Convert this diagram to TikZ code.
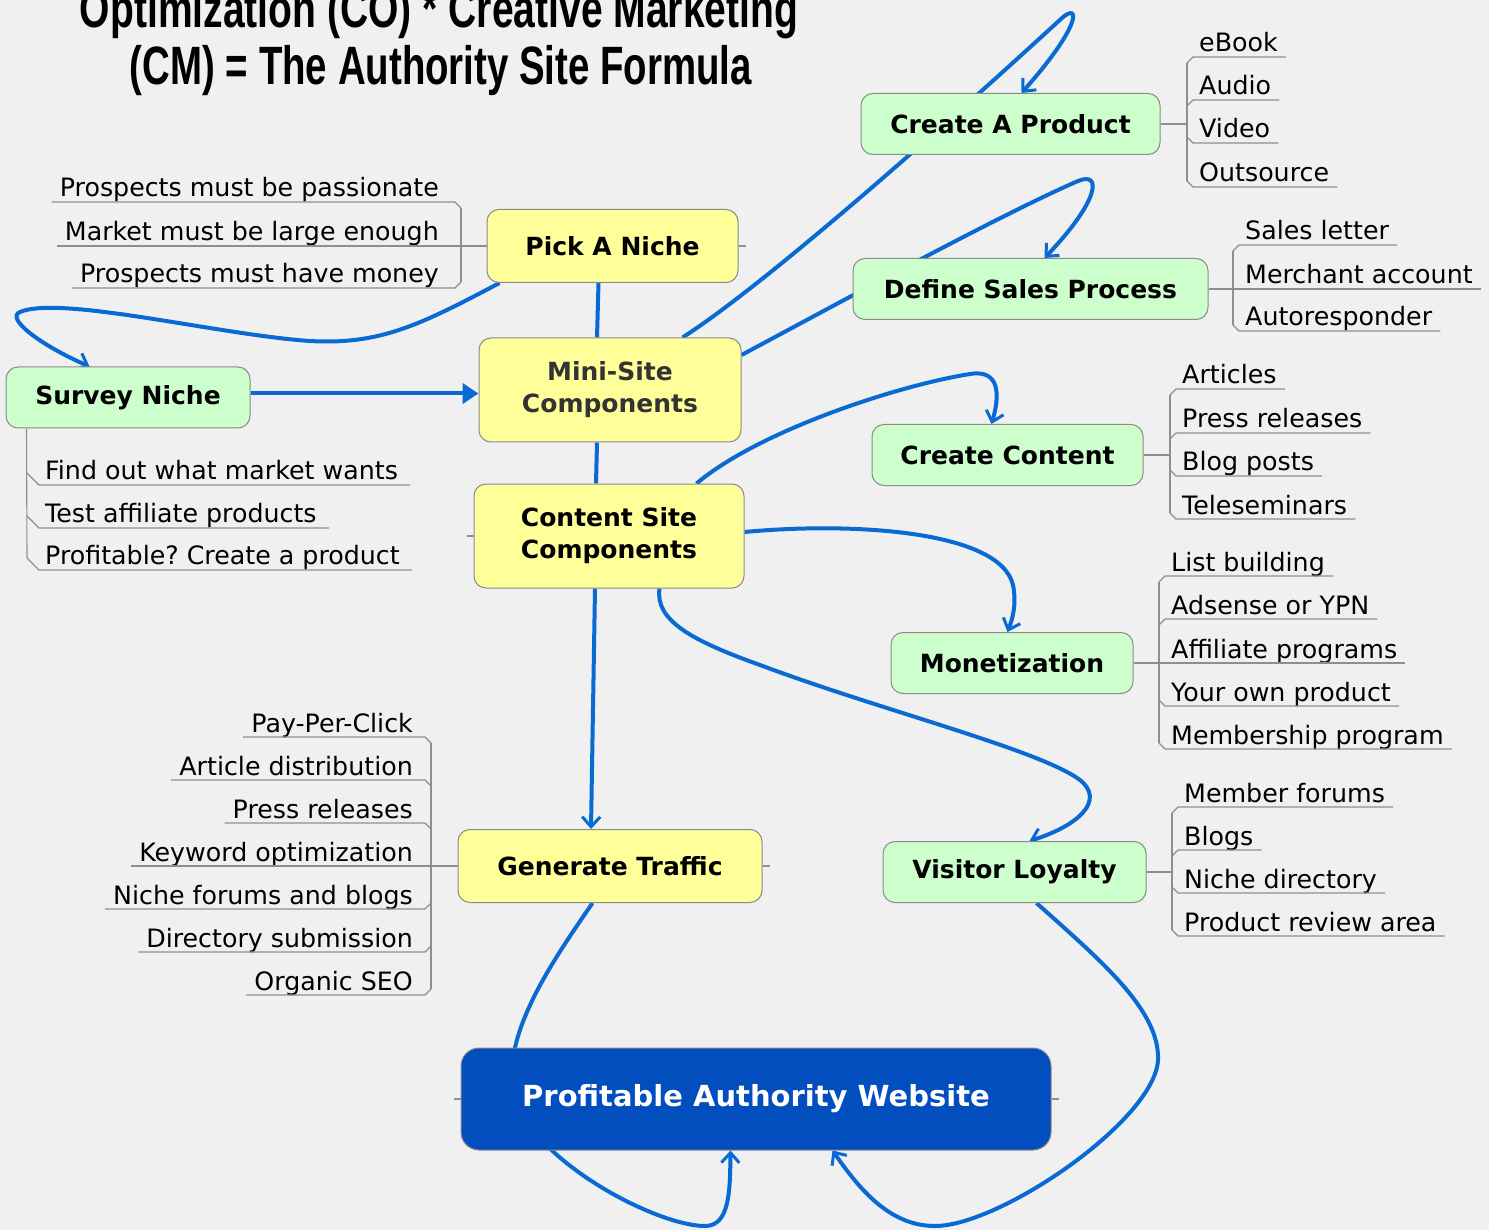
\documentclass[tikz,border=0pt]{standalone}
\usepackage{fontspec}
\usepackage{graphicx}
\setmainfont{DejaVu Sans}
\newfontfamily\titlefont{Liberation Sans}
\usetikzlibrary{arrows.meta,calc}
\definecolor{bgc}{HTML}{F0F0F0}
\definecolor{wirec}{HTML}{0A6AD4}
\definecolor{grn}{HTML}{CCFFCC}
\definecolor{ylw}{HTML}{FFFF99}
\definecolor{deep}{HTML}{034EBF}
\definecolor{twigc}{HTML}{8E8E8E}
\definecolor{boxline}{HTML}{8A8A8A}
\definecolor{minitxt}{HTML}{333333}
\pgfdeclarelayer{back}
\pgfdeclarelayer{wires}
\pgfsetlayers{back,wires,main}
\frenchspacing

\newcommand\rightleaves[6]{%
  \draw[twig] (#1.east) -- (#2,#3);
  \draw[twig] (#2,#4+6) -- (#2,#5-6);
  \foreach \yy/\lbl [count=\ii] in {#6} {
    \pgfmathsetmacro\ss{(\yy<#3)*6-(\yy>#3)*6}
    \node[leaf, anchor=base west] (#1-\ii) at (#2+12,\yy-5) {\lbl};
    \draw[twig] (#2,\yy+\ss) -- (#2+6,\yy) -- ($(#1-\ii.base east)+(8,5)$);
  }
}
\newcommand\leftleaves[7]{%
  \draw[twig] (#1.west) -- (#2,#3);
  \draw[twig] (#2,#4+6) -- (#2,#5-6);
  \foreach \yy/\lbl [count=\ii] in {#6} {
    \pgfmathsetmacro\ss{(\yy<#3)*6-(\yy>#3)*6}
    \node[leaf, anchor=base east] (#1-\ii) at (#2-#7,\yy-5) {\lbl};
    \draw[twig] (#2,\yy+\ss) -- (#2-6,\yy) -- ($(#1-\ii.base west)+(-8,5)$);
  }
}

\begin{document}
\begin{tikzpicture}[x=1pt,y=-1pt,
  nodebox/.style={draw=boxline, line width=1pt, rounded corners=12pt, inner sep=0pt,
    align=center, font=\fontsize{25}{32}\selectfont\bfseries},
  gbox/.style={nodebox, fill=grn},
  ybox/.style={nodebox, fill=ylw},
  leaf/.style={inner sep=0pt, font=\fontsize{25.3}{30}\selectfont},
  twig/.style={draw=twigc, line width=1.1pt},
  wire/.style={draw=wirec, line width=4pt},
  barb/.style={-{Straight Barb[length=10pt,width=18pt,line width=3pt]}}]

\useasboundingbox (0,0) rectangle (1489,1230);
\begin{pgfonlayer}{back}
  \fill[bgc] (0,0) rectangle (1489,1230);
\end{pgfonlayer}

% title
\node[inner sep=0pt, anchor=base] (t1) at (439,28) {\resizebox{718pt}{\height}{\titlefont\fontsize{54}{60}\selectfont\bfseries Optimization (CO) * Creative Marketing}};
\node[inner sep=0pt, anchor=base] (t2) at (441,85) {\resizebox{622pt}{\height}{\titlefont\fontsize{54}{60}\selectfont\bfseries (CM) = The Authority Site Formula}};

% nodes
\node[gbox, minimum width=299pt, minimum height=61pt] (product) at (1010.5,124) {Create A Product};
\node[ybox, minimum width=251pt, minimum height=73pt] (pick) at (612.5,246) {Pick A Niche};
\node[gbox, minimum width=355pt, minimum height=61pt] (define) at (1030.5,289) {Define Sales Process};
\node[ybox, minimum width=262pt, minimum height=104pt, text=minitxt] (mini) at (610,390) {Mini-Site\\Components};
\node[gbox, minimum width=244pt, minimum height=61pt] (survey) at (128,397.5) {Survey Niche};
\node[gbox, minimum width=271pt, minimum height=61pt] (cc) at (1007.5,455) {Create Content};
\node[ybox, minimum width=270pt, minimum height=104pt] (csite) at (609,536) {Content Site\\Components};
\node[gbox, minimum width=242pt, minimum height=61pt] (monet) at (1012,663) {Monetization};
\node[ybox, minimum width=304pt, minimum height=73pt] (traffic) at (610,866) {Generate Traffic};
\node[gbox, minimum width=263pt, minimum height=61pt] (loyal) at (1014.5,872) {Visitor Loyalty};
\node[nodebox, fill=deep, draw=boxline, text=white, rounded corners=18pt, minimum width=590pt, minimum height=102pt,
  font=\fontsize{29}{34}\selectfont\bfseries] (profit) at (756,1099) {Profitable Authority Website};

% leaf groups
\rightleaves{product}{1187}{124}{57}{187}{57/eBook, 100/Audio, 143/Video, 187/Outsource}
\rightleaves{define}{1233}{289}{245}{331}{245/Sales letter, 289/Merchant account, 331/Autoresponder}
\rightleaves{cc}{1170}{455}{389}{519}{389/Articles, 433/Press releases, 476/Blog posts, 519/Teleseminars}
\rightleaves{monet}{1159}{663}{576}{749}{576/List building, 619/Adsense or YPN, 663/Affiliate programs, 706/Your own product, 749/Membership program}
\rightleaves{loyal}{1172}{872}{807}{936}{807/Member forums, 850/Blogs, 893/Niche directory, 936/Product review area}
\leftleaves{pick}{461}{246}{202}{288}{202/Prospects must be passionate, 246/Market must be large enough, 288/Prospects must have money}{22}
\leftleaves{traffic}{431}{866}{737}{995}{737/Pay-Per-Click, 780/Article distribution, 823/Press releases, 866/Keyword optimization, 909/Niche forums and blogs, 952/Directory submission, 995/Organic SEO}{18}

% survey leaves (below)
\draw[twig] ($(survey.south west)+(21,0)$) -- (27,558);
\foreach \yy/\lbl [count=\ii] in {485/Find out what market wants, 528/Test affiliate products, 570/Profitable? Create a product} {
  \node[leaf, anchor=base west] (survey-\ii) at (45,\yy-6) {\lbl};
  \draw[twig] (27,\yy-12) -- (39,\yy) -- ($(survey-\ii.base east)+(12,6)$);
}

% stubs
\draw[twig] (pick.east) -- ++(7,0);
\draw[twig] (csite.west) -- ++(-7,0);
\draw[twig] (traffic.east) -- ++(7,0);
\draw[twig] (profit.west) -- ++(-7,0);
\draw[twig] (profit.east) -- ++(7,0);

% connectors
\begin{pgfonlayer}{wires}
\draw[wire, barb] ($(pick.south west)+(13,0)$) .. controls (420,325) and (380,345) .. (310,341)
   .. controls (220,335) and (60,295) .. (20,312) .. controls (5,318) and (40,345) .. ($(survey.north west)+(84,0)$);
\draw[wire, -{Triangle[length=16pt,width=20pt]}] ($(survey.east)+(0,-4)$) -- ($(mini.west)+(0,3.5)$);
\draw[wire] ([xshift=-14pt]pick.south) -- ([xshift=-13pt]mini.north);
\draw[wire] ([xshift=-13pt]mini.south) -- ([xshift=-13pt]csite.north);
\draw[wire, barb] ([xshift=-14pt]csite.south) -- ([xshift=-19pt]traffic.north);
\draw[wire, barb] ($(mini.north west)+(204,0)$) .. controls (780,275) and (1000,75) .. (1062,18)
   .. controls (1080,2) and (1082,25) .. ($(product.north west)+(161,0)$);
\draw[wire, barb] ($(mini.east)+(0,-35)$) .. controls (850,297) and (1000,215) .. (1078,181)
   .. controls (1102,171) and (1100,200) .. ($(define.north west)+(192,0)$);
\draw[wire, barb] ($(csite.north west)+(223,0)$) .. controls (760,430) and (900,385) .. (970,374)
   .. controls (1000,369) and (1000,395) .. ($(cc.north west)+(120,0)$);
\draw[wire, barb] ($(csite.east)+(0,-4)$) .. controls (850,522) and (1000,530) .. (1013,585)
   .. controls (1017,605) and (1012,620) .. ($(monet.north west)+(117,0)$);
\draw[wire, barb] ($(csite.south west)+(186,0)$) .. controls (655,620) and (690,640) .. (760,665)
   .. controls (880,710) and (1040,750) .. (1080,780) .. controls (1105,800) and (1080,825) .. ($(loyal.north west)+(147,0)$);
\draw[wire, barb] ($(traffic.south west)+(135,0)$) .. controls (550,965) and (490,1050) .. (520,1110)
   .. controls (550,1170) and (660,1226) .. (705,1226) .. controls (730,1226) and (730,1190) .. ($(profit.south west)+(270,0)$);
\draw[wire, barb] ($(loyal.south west)+(154,0)$) .. controls (1100,960) and (1160,1010) .. (1158,1060)
   .. controls (1155,1120) and (1000,1226) .. (935,1226) .. controls (890,1226) and (860,1190) .. ($(profit.south west)+(372,0)$);
\end{pgfonlayer}
\end{tikzpicture}
\end{document}
